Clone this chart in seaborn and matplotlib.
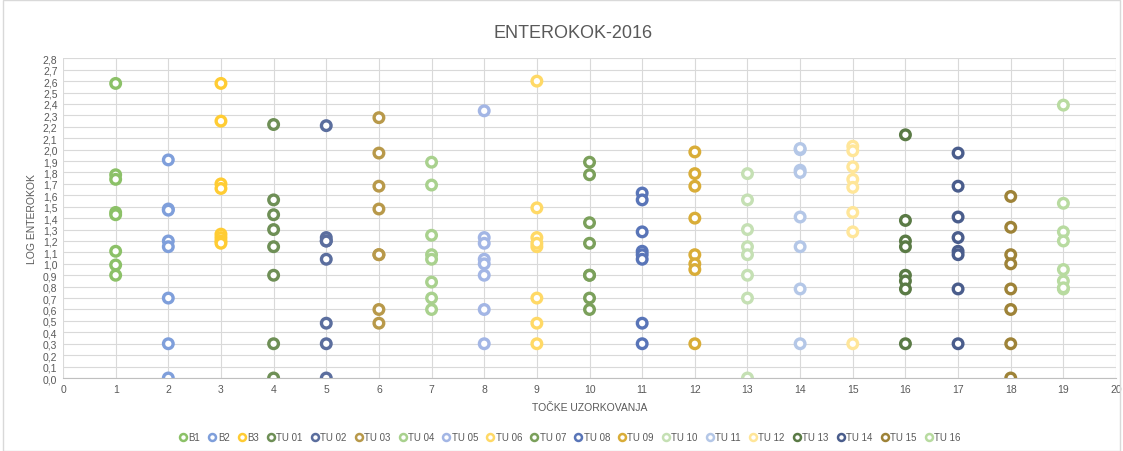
import numpy as np
import pandas as pd
import matplotlib
matplotlib.use("Agg")
import matplotlib.pyplot as plt
import matplotlib.ticker as mticker
from matplotlib.patches import Rectangle
import seaborn as sns

# series names, one sampling point (x) per series
series = ["B1", "B2", "B3", "TU 01", "TU 02", "TU 03", "TU 04", "TU 05", "TU 06",
          "TU 07", "TU 08", "TU 09", "TU 10", "TU 11", "TU 12", "TU 13", "TU 14",
          "TU 15", "TU 16"]
points = list(range(1, 20))

# log enterokok values, per series
b1 = [2.58, 1.78, 1.74, 1.45, 1.43, 1.11, 0.99, 0.90]
b2 = [1.91, 1.48, 1.47, 1.20, 1.15, 0.70, 0.30, 0.00]
b3 = [2.58, 2.25, 1.70, 1.66, 1.26, 1.23, 1.20, 1.18]
tu01 = [2.22, 1.56, 1.43, 1.30, 1.15, 0.90, 0.30, 0.00]
tu02 = [2.21, 1.23, 1.20, 1.20, 1.04, 0.48, 0.30, 0.00]
tu03 = [2.28, 1.97, 1.68, 1.48, 1.08, 1.08, 0.60, 0.48]
tu04 = [1.89, 1.69, 1.25, 1.08, 1.04, 0.84, 0.70, 0.60]
tu05 = [2.34, 1.23, 1.18, 1.04, 1.00, 0.90, 0.60, 0.30]
tu06 = [2.60, 1.49, 1.23, 1.15, 1.18, 0.70, 0.48, 0.30]
tu07 = [1.89, 1.78, 1.36, 1.18, 0.90, 0.90, 0.70, 0.60]
tu08 = [1.62, 1.56, 1.28, 1.11, 1.08, 1.04, 0.48, 0.30]
tu09 = [1.98, 1.79, 1.68, 1.40, 1.08, 1.00, 0.95, 0.30]
tu10 = [1.79, 1.56, 1.30, 1.15, 1.08, 0.90, 0.70, 0.00]
tu11 = [2.00, 2.01, 1.82, 1.80, 1.41, 1.15, 0.78, 0.30]
tu12 = [2.03, 1.99, 1.85, 1.74, 1.67, 1.45, 1.28, 0.30]
tu13 = [2.13, 1.38, 1.20, 1.15, 0.90, 0.85, 0.78, 0.30]
tu14 = [1.97, 1.68, 1.41, 1.23, 1.11, 1.08, 0.78, 0.30]
tu15 = [1.59, 1.32, 1.08, 1.00, 0.78, 0.60, 0.30, 0.00]
tu16 = [2.39, 1.53, 1.28, 1.20, 0.95, 0.85, 0.78, 0.79]

values = [b1, b2, b3, tu01, tu02, tu03, tu04, tu05, tu06, tu07, tu08, tu09,
          tu10, tu11, tu12, tu13, tu14, tu15, tu16]

colors = ["#8cc168", "#7f9fdb", "#ffcc33", "#6e8f56", "#5b6e9e", "#b8994a",
          "#a9d18e", "#a3b6e5", "#ffd966", "#7ba05b", "#5975b8", "#d9ad38",
          "#c5e0b4", "#b4c7e7", "#ffe699", "#5a7a45", "#4a5d8c", "#9e8338",
          "#b8dba0"]

rows = []
for name, x, vals in zip(series, points, values):
    for v in vals:
        rows.append({"serija": name, "tocka": x, "log": v})
df = pd.DataFrame(rows)
palette = dict(zip(series, colors))

sns.set_style("white")
plt.rcParams["font.family"] = ["Liberation Sans", "DejaVu Sans"]

fig = plt.figure(figsize=(11.23, 4.52), dpi=100)
ax = fig.add_axes([0.0561, 0.1615, 0.9377, 0.7073])

grid_c = "#d9d9d9"
text_c = "#595959"

sns.scatterplot(data=df, x="tocka", y="log", hue="serija", palette=palette,
                hue_order=series, s=48, linewidth=2.4, legend=False, ax=ax, zorder=3,
                marker="o")
# hollow rings: white fill, series colour on the edge
coll = ax.collections[0]
coll.set_edgecolors(coll.get_facecolors())
coll.set_facecolors("white")

ax.set_xlim(0, 20)
ax.set_ylim(0, 2.8)
ax.xaxis.set_major_locator(mticker.MultipleLocator(1))
ax.yaxis.set_major_locator(mticker.MultipleLocator(0.1))
ax.yaxis.set_major_formatter(mticker.FuncFormatter(lambda v, p: f"{v:.1f}".replace(".", ",")))
ax.grid(True, color=grid_c, linewidth=0.8, zorder=0)
ax.set_axisbelow(True)
for s in ["top", "right", "left"]:
    ax.spines[s].set_visible(False)
ax.spines["bottom"].set_color("#bfbfbf")
ax.tick_params(axis="both", length=0, labelsize=7.5, colors=text_c, pad=4)

ax.set_xlabel("TOČKE UZORKOVANJA", fontsize=7.5, color=text_c, labelpad=6)
ax.set_ylabel("LOG ENTEROKOK", fontsize=7.5, color=text_c, labelpad=4)
fig.suptitle("ENTEROKOK-2016", x=0.51, y=0.945, fontsize=13, color=text_c)

handles = [plt.Line2D([], [], marker="o", linestyle="", markersize=5,
                      markerfacecolor="white", markeredgecolor=c, markeredgewidth=1.8)
           for c in colors]
fig.legend(handles, series, loc="center", bbox_to_anchor=(0.507, 0.031), ncol=19,
           frameon=False, fontsize=7, handletextpad=0.05, columnspacing=0.75,
           handlelength=1.0, labelcolor=text_c)

fig.patches.append(Rectangle((0.003, 0.0), 0.994, 0.998, transform=fig.transFigure,
                             fill=False, edgecolor="#d9d9d9", linewidth=1))

fig.savefig("out.png", dpi=100)
